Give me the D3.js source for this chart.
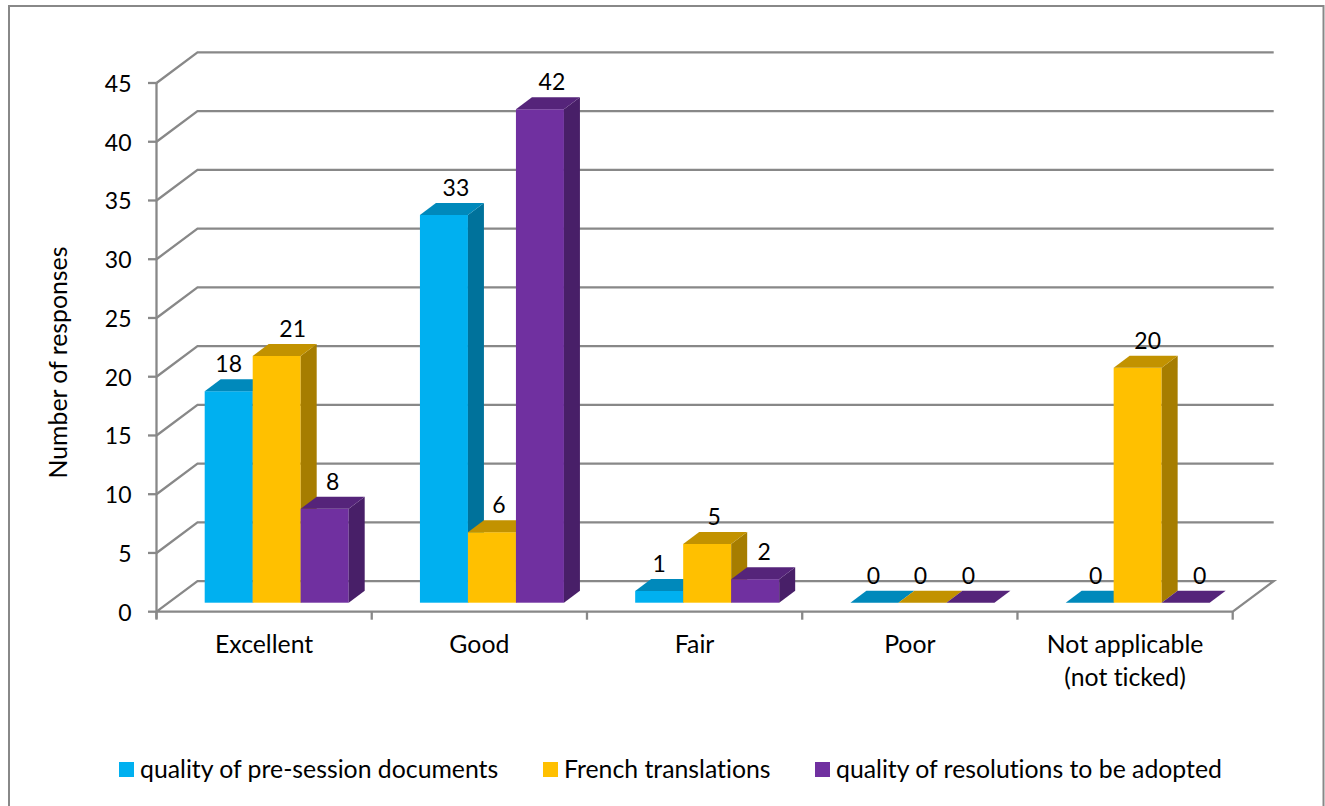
<!DOCTYPE html>
<html><head><meta charset="utf-8">
<script src="https://cdnjs.cloudflare.com/ajax/libs/d3/7.8.5/d3.min.js"></script>
<style>html,body{margin:0;background:#fff}svg{display:block}text{font-family:Lato,"Open Sans",sans-serif;fill:#000;font-size:24.8px;font-variant-ligatures:none}text.num{font-size:23px}</style>
</head><body><svg id="c" width="1325" height="806"></svg>
<script>
const categories = ["Excellent","Good","Fair","Poor","Not applicable|(not ticked)"];
const seriesNames = ["quality of pre-session documents","French translations","quality of resolutions to be adopted"];
const documentsValues = [18,33,1,0,0];
const frenchValues = [21,6,5,0,20];
const resolutionsValues = [8,42,2,0,0];
const yTicks = [0,5,10,15,20,25,30,35,40,45];
const seriesValues = [documentsValues,frenchValues,resolutionsValues];
const palette = [{f:"#00b0f0",t:"#0089bb",s:"#00729b"},{f:"#ffc000",t:"#c29200",s:"#a67d00"},{f:"#7030a0",t:"#55247a",s:"#481f68"}];
// label nudges relative to bar centre
const labelDx = [[0,16,8],[12,7,12],[0,7,9],[-1,-2,-2],[6,10,14]];

const svg = d3.select("#c");
const grey = "#888888";
svg.append("rect").attr("x",9).attr("y",6).attr("width",1314.5).attr("height",806).attr("fill","none").attr("stroke",grey).attr("stroke-width",2);

const x = d3.scaleBand().domain(categories).range([156.5,1232.7]);
const y = d3.scaleLinear().domain([0,45]).range([611.7,83]);
const inner = d3.scaleBand().domain([0,1,2]).range([48.2,192.2]);
const depth = {x:41,y:-30.6};
const gridG = svg.append("g").attr("stroke",grey).attr("stroke-width",2.3).attr("fill","none");
yTicks.forEach(t=>{
  const yy=y(t);
  if(t>0) gridG.append("path").attr("d",d3.line()([[156.5,yy],[156.5+depth.x,yy+depth.y],[1232.7+depth.x,yy+depth.y]]));
  gridG.append("line").attr("x1",148).attr("x2",156.5).attr("y1",yy).attr("y2",yy);
});
// floor
gridG.append("path").attr("d",d3.line()([[156.5,y(0)],[156.5+depth.x,y(0)+depth.y],[1232.7+depth.x,y(0)+depth.y],[1232.7,y(0)],[156.5,y(0)]]));
gridG.append("line").attr("x1",156.5).attr("x2",156.5).attr("y1",y(45)).attr("y2",y(0)+7);
d3.range(6).forEach(i=>{const px=156.5+i*x.bandwidth();gridG.append("line").attr("x1",px).attr("x2",px).attr("y1",y(0)).attr("y2",y(0)+8);});

// y tick labels
svg.append("g").selectAll("text").data(yTicks).join("text").attr("class","num").attr("x",131.5).attr("text-anchor","end").attr("y",d=>y(d)+9).text(d=>d);
svg.append("text").attr("transform","translate(67,362.5) rotate(-90)").attr("text-anchor","middle").text("Number of responses");

// bars
const base = 602.7, bd={x:16,y:-12}, unit=y(0)-y(1);
const barG = svg.append("g");
const lblG = svg.append("g");
categories.forEach((c,ci)=>{
  seriesValues.forEach((vals,si)=>{
    const v=vals[ci], x0=x(c)+inner(si), w=inner.bandwidth(), top=base-v*unit, p=palette[si];
    const g=barG.append("g");
    if(v>0){
      g.append("rect").attr("x",x0).attr("y",top).attr("width",w).attr("height",base-top).attr("fill",p.f);
      g.append("path").attr("d",d3.line()([[x0+w,top],[x0+w+bd.x,top+bd.y],[x0+w+bd.x,base+bd.y],[x0+w,base]])+"Z").attr("fill",p.s);
    }
    g.append("path").attr("d",d3.line()([[x0,top],[x0+bd.x,top+bd.y],[x0+w+bd.x,top+bd.y],[x0+w,top]])+"Z").attr("fill",p.t);
    lblG.append("text").attr("class","num").attr("x",x0+w/2+labelDx[ci][si]).attr("y",top+bd.y-7).attr("text-anchor","middle").text(v);
  });
  const parts=c.split("|");
  parts.forEach((t,i)=>svg.append("text").attr("x",x(c)+x.bandwidth()/2).attr("y",653+i*33).attr("text-anchor","middle").text(t));
});

// legend
const legendX=[118,542,814], legendTextX=[140,564,836];
seriesNames.forEach((n,i)=>{
  svg.append("rect").attr("x",legendX[i]+1).attr("y",762).attr("width",15).attr("height",15).attr("fill",palette[i].f);
  svg.append("text").attr("x",legendTextX[i]).attr("y",778).text(n);
});
</script></body></html>
